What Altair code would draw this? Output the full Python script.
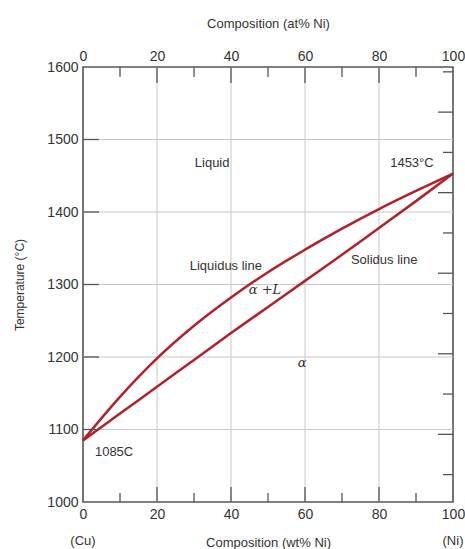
import altair as alt
import pandas as pd

# ---- data ----
wt_pct = [0, 10, 20, 30, 40, 50, 60, 70, 80, 90, 100]
liquidus_c = [1085, 1145, 1198, 1243, 1282, 1317, 1348, 1377, 1404, 1429, 1453]
solidus_c = [1085, 1122, 1159, 1196, 1233, 1269, 1305, 1341, 1378, 1415, 1453]

x_labels = [0, 20, 40, 60, 80, 100]
x_major_inner = [20, 40, 60, 80]
x_minor = [10, 30, 50, 70, 90]
y_labels = [1000, 1100, 1200, 1300, 1400, 1500, 1600]
y_inner = [1100, 1200, 1300, 1400, 1500]
f_long = [2000, 2200, 2400, 2600, 2800]
f_short = [1900, 2100, 2300, 2500, 2700, 2900]

ann_text = ["Liquid", "1453°C", "Liquidus line", "Solidus line", "1085C"]
ann_x = [34.9, 88.9, 38.6, 81.4, 8.4]
ann_y = [1468, 1468, 1325, 1334, 1069]
greek_text = ["α +L", "α"]
greek_x = [49.2, 59.2]
greek_y = [1292, 1192]
end_text = ["(Cu)", "(Ni)"]
end_x = [0, 100]

W, H = 370, 435
LINE = "#b3202a"
GRID = "#c8c8c8"
FRAME = "#555555"
TXT = "#333333"
FONT = "Liberation Sans"

xs = alt.Scale(domain=[0, 100], nice=False, zero=False)
ys = alt.Scale(domain=[1000, 1600], nice=False, zero=False)

curves = pd.DataFrame({
    "wt": wt_pct * 2,
    "T": liquidus_c + solidus_c,
    "line": ["Liquidus"] * len(wt_pct) + ["Solidus"] * len(wt_pct),
})

def df(**kw):
    return pd.DataFrame(kw)

# gridlines
vgrid = alt.Chart(df(x=x_major_inner)).mark_rule(color=GRID, strokeWidth=1).encode(
    x=alt.X("x:Q", scale=xs, axis=None))
hgrid = alt.Chart(df(y=y_inner)).mark_rule(color=GRID, strokeWidth=1).encode(
    y=alt.Y("y:Q", scale=ys, axis=None))

# curves with bottom & left axes
lines = alt.Chart(curves).mark_line(color=LINE, strokeWidth=2.5, interpolate="monotone").encode(
    x=alt.X("wt:Q", scale=xs, axis=alt.Axis(
        orient="bottom", values=x_labels, title="Composition (wt% Ni)", ticks=False,
        domain=False, grid=False, labelFlush=False, labelPadding=5, titlePadding=15,
        labelFontSize=14, titleFontSize=13, labelColor=TXT, titleColor=TXT,
        labelFont=FONT, titleFont=FONT, titleFontWeight="normal", format="d")),
    y=alt.Y("T:Q", scale=ys, axis=alt.Axis(
        orient="left", values=y_labels, title="Temperature (°C)", ticks=False,
        domain=False, grid=False, labelFlush=False, labelPadding=5, titlePadding=20,
        labelFontSize=14, titleFontSize=12, labelColor=TXT, titleColor=TXT,
        labelFont=FONT, titleFont=FONT, titleFontWeight="normal", format="d")),
    detail="line:N",
)

# top axis via top major ticks
top_major = alt.Chart(df(x=x_major_inner)).mark_rule(color=FRAME, strokeWidth=1.3).encode(
    x=alt.X("x:Q", scale=xs, axis=alt.Axis(
        orient="top", values=x_labels, title="Composition (at% Ni)", ticks=False,
        domain=False, grid=False, labelFlush=False, labelPadding=4, titlePadding=19,
        labelFontSize=14, titleFontSize=13, labelColor=TXT, titleColor=TXT,
        labelFont=FONT, titleFont=FONT, titleFontWeight="normal", format="d")),
    y=alt.value(0), y2=alt.value(16))
top_minor = alt.Chart(df(x=x_minor)).mark_rule(color=FRAME, strokeWidth=1.3).encode(
    x=alt.X("x:Q", scale=xs, axis=None), y=alt.value(0), y2=alt.value(10))

bot_major = alt.Chart(df(x=x_major_inner)).mark_rule(color=FRAME, strokeWidth=1.3).encode(
    x=alt.X("x:Q", scale=xs, axis=None), y=alt.value(H), y2=alt.value(H - 15))
bot_minor = alt.Chart(df(x=x_minor)).mark_rule(color=FRAME, strokeWidth=1.3).encode(
    x=alt.X("x:Q", scale=xs, axis=None), y=alt.value(H), y2=alt.value(H - 9))

left_ticks = alt.Chart(df(y=y_inner)).mark_rule(color=FRAME, strokeWidth=1.3).encode(
    y=alt.Y("y:Q", scale=ys, axis=None), x=alt.value(0), x2=alt.value(16))

right_long = alt.Chart(df(f=f_long)).transform_calculate(
    c="(datum.f - 32) * 5 / 9").mark_rule(color=FRAME, strokeWidth=1.3).encode(
    y=alt.Y("c:Q", scale=ys, axis=None), x=alt.value(W), x2=alt.value(W - 15))
right_short = alt.Chart(df(f=f_short)).transform_calculate(
    c="(datum.f - 32) * 5 / 9").mark_rule(color=FRAME, strokeWidth=1.3).encode(
    y=alt.Y("c:Q", scale=ys, axis=None), x=alt.value(W), x2=alt.value(W - 10))

ann = alt.Chart(df(t=ann_text, x=ann_x, y=ann_y)).mark_text(
    font=FONT, fontSize=13, color=TXT, align="center", baseline="middle").encode(
    x=alt.X("x:Q", scale=xs, axis=None), y=alt.Y("y:Q", scale=ys, axis=None), text="t:N")

greek = alt.Chart(df(t=greek_text, x=greek_x, y=greek_y)).mark_text(
    font="DejaVu Serif", fontStyle="italic", fontSize=13, color=TXT,
    align="center", baseline="middle").encode(
    x=alt.X("x:Q", scale=xs, axis=None), y=alt.Y("y:Q", scale=ys, axis=None), text="t:N")

ends = alt.Chart(df(t=end_text, x=end_x)).mark_text(
    font=FONT, fontSize=13, color=TXT, align="center", baseline="middle").encode(
    x=alt.X("x:Q", scale=xs, axis=None), y=alt.value(H + 39), text="t:N")

chart = alt.layer(
    vgrid, hgrid, lines, top_major, top_minor, bot_major, bot_minor,
    left_ticks, right_long, right_short, ann, greek, ends
).resolve_axis(x="independent", y="independent").properties(
    width=W, height=H,
    autosize=alt.AutoSizeParams(type="none"),
    padding={"left": 83, "top": 67, "right": 12, "bottom": 47},
    background="white",
).configure_view(stroke=FRAME, strokeWidth=1.6)

chart.save("out.html", embed_options={"renderer": "svg", "actions": False})
